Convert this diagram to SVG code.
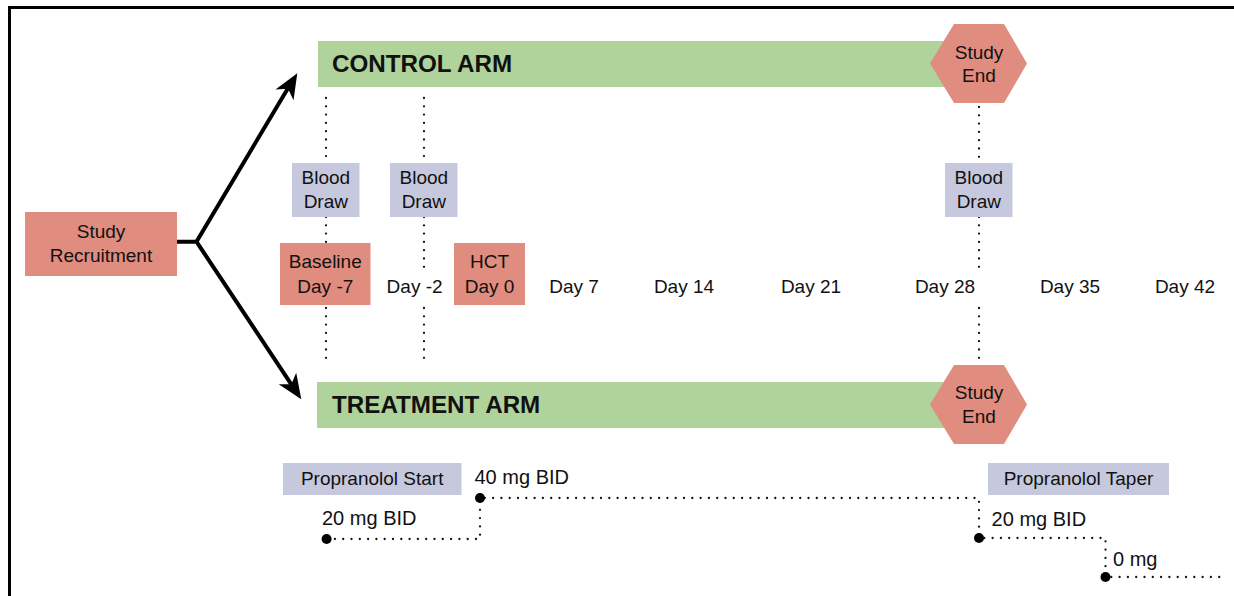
<svg xmlns="http://www.w3.org/2000/svg" width="1234" height="596" viewBox="0 0 1234 596">
<style>
text{font-family:"Liberation Sans",Arial,sans-serif;font-size:19px;fill:#111;}
.c{text-anchor:middle;}
.b{font-weight:bold;font-size:24.2px;}
.d{font-size:20px;}
.bar{fill:#b0d39c;}
.sal{fill:#e08c7e;}
.lav{fill:#c6c9dd;}
.dot{stroke:#111;stroke-width:2.3;stroke-linecap:round;stroke-dasharray:0 8.3;fill:none;}
.arr{stroke:#000;stroke-width:4;fill:none;stroke-linejoin:miter;}
</style>
<rect width="1234" height="596" fill="#fff"/>
<path d="M9.5,596 V7.5 H1234" fill="none" stroke="#000" stroke-width="3"/>

<g id="connectors">
<path class="arr" d="M177,241.7 H196.5 M287.8,88.5 L196.5,241.7 L291.3,384.3"/>
<path transform="translate(297.3,73.3) rotate(-59.2)" d="M0,0 L-25,-10.5 L-18,0 L-25,10.5 Z" fill="#000"/>
<path transform="translate(301.3,399.3) rotate(56.4)" d="M0,0 L-25,-10.5 L-18,0 L-25,10.5 Z" fill="#000"/>
<path class="dot" d="M326,98 V159 M326,217 V242 M326,308 V359"/>
<path class="dot" d="M424,98 V159 M424,217 V267 M424,308 V359"/>
<path class="dot" d="M979,107 V159 M979,217 V267 M979,308 V359"/>
<path class="dot" d="M326.6,539 H480 V498 H979 V538 H1105.5 V577 H1224"/>
<g fill="#000">
<circle cx="326.6" cy="539" r="5"/>
<circle cx="480" cy="498" r="5"/>
<circle cx="979" cy="538" r="5"/>
<circle cx="1105.5" cy="577" r="5"/>
</g>
</g>

<g id="control-arm">
<rect class="bar" x="318" y="41" width="650" height="46"/>
<text class="b" x="332" y="71.5">CONTROL ARM</text>
</g>
<g id="control-end">
<polygon class="sal" points="930,63.5 954,24 1004,24 1027,63.5 1004,103 954,103"/>
<text class="c" x="979" y="58.5">Study</text>
<text class="c" x="979" y="82">End</text>
</g>

<g id="treatment-arm">
<rect class="bar" x="317" y="382" width="650" height="46"/>
<text class="b" x="332" y="412.5">TREATMENT ARM</text>
</g>
<g id="treatment-end">
<polygon class="sal" points="930,404.5 954,365 1004,365 1027,404.5 1004,444 954,444"/>
<text class="c" x="979" y="399">Study</text>
<text class="c" x="979" y="423">End</text>
</g>

<g id="recruitment">
<rect class="sal" x="25" y="212" width="152" height="64"/>
<text class="c" x="101" y="238">Study</text>
<text class="c" x="101" y="262">Recruitment</text>
</g>

<g id="blood1">
<rect class="lav" x="292" y="163" width="67.5" height="54"/>
<text class="c" x="325.8" y="184">Blood</text>
<text class="c" x="325.8" y="208">Draw</text>
</g>
<g id="blood2">
<rect class="lav" x="390" y="163" width="67.5" height="54"/>
<text class="c" x="423.8" y="184">Blood</text>
<text class="c" x="423.8" y="208">Draw</text>
</g>
<g id="blood3">
<rect class="lav" x="945" y="163" width="67.5" height="54"/>
<text class="c" x="978.8" y="184">Blood</text>
<text class="c" x="978.8" y="208">Draw</text>
</g>

<g id="baseline">
<rect class="sal" x="280" y="243" width="90.5" height="62"/>
<text class="c" x="325.3" y="268">Baseline</text>
<text class="c" x="325.3" y="293">Day -7</text>
</g>
<g id="hct">
<rect class="sal" x="454" y="243" width="71" height="62"/>
<text class="c" x="489.5" y="268">HCT</text>
<text class="c" x="489.5" y="293">Day 0</text>
</g>

<g id="days">
<text class="c" x="414.6" y="293">Day -2</text>
<text class="c" x="574" y="293">Day 7</text>
<text class="c" x="684" y="293">Day 14</text>
<text class="c" x="811" y="293">Day 21</text>
<text class="c" x="945" y="293">Day 28</text>
<text class="c" x="1070" y="293">Day 35</text>
<text class="c" x="1185" y="293">Day 42</text>
</g>

<g id="prop-start">
<rect class="lav" x="283" y="463" width="178.5" height="32"/>
<text class="c" x="372.2" y="485">Propranolol Start</text>
</g>
<g id="prop-taper">
<rect class="lav" x="988" y="463" width="181" height="32"/>
<text class="c" x="1078.5" y="485">Propranolol Taper</text>
</g>

<g id="doses">
<text class="d" x="322" y="525">20 mg BID</text>
<text class="d" x="474.5" y="484">40 mg BID</text>
<text class="d" x="991.6" y="526">20 mg BID</text>
<text class="d" x="1113" y="566">0 mg</text>
</g>
</svg>
